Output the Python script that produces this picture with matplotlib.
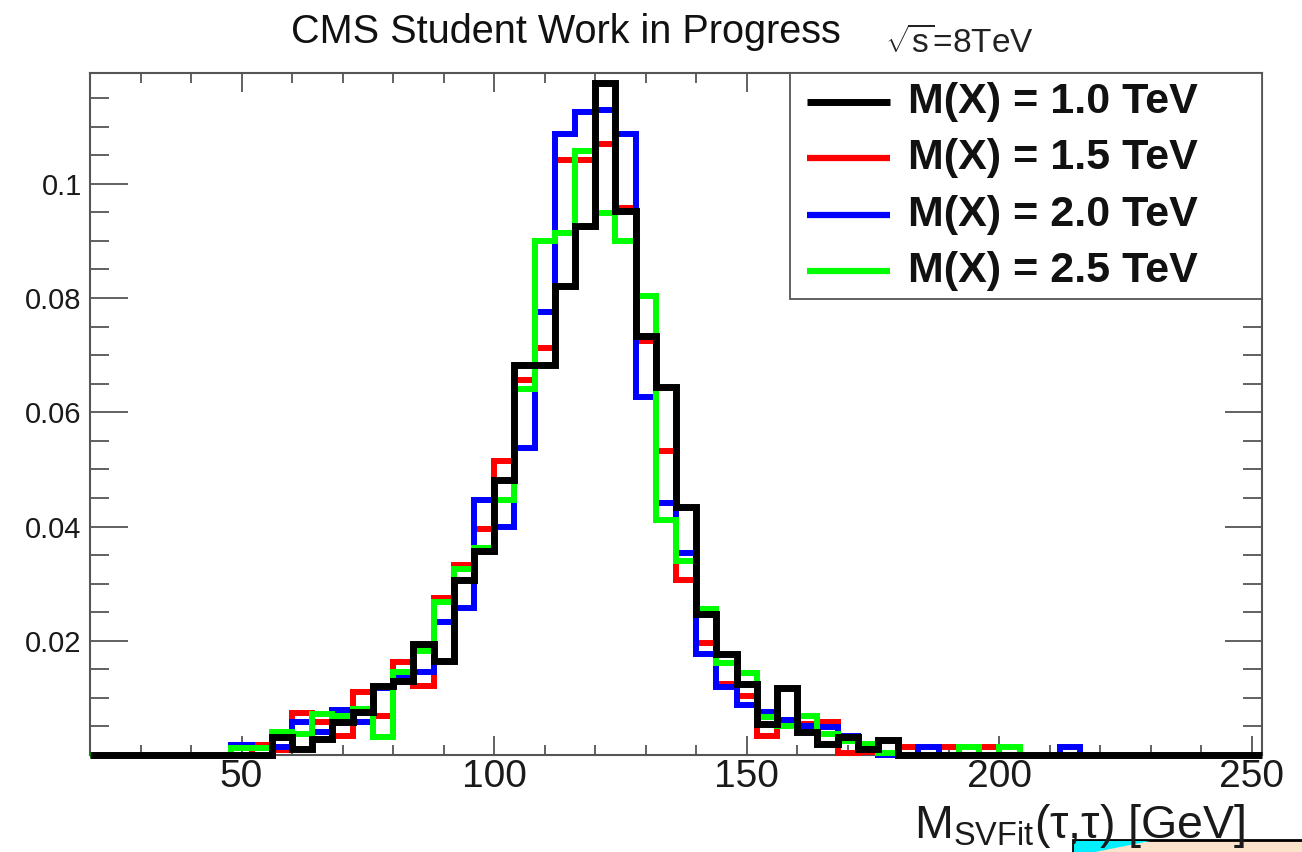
import numpy as np
import matplotlib
matplotlib.use("Agg")
import matplotlib.pyplot as plt
from matplotlib.ticker import MultipleLocator, FixedLocator, FormatStrFormatter
from matplotlib.patches import Rectangle, Polygon

plt.rcParams['font.family'] = ['Liberation Sans', 'DejaVu Sans']
plt.rcParams['mathtext.fontset'] = 'custom'
plt.rcParams['mathtext.rm'] = 'Liberation Sans'
plt.rcParams['mathtext.it'] = 'Liberation Sans:italic'

# 4 GeV bins from 20 to 252 GeV (normalised distributions)
edges = np.arange(20, 256, 4)

m_1000 = [0, 0, 0, 0, 0, 0, 0, 0, 0, 0.0031,
          0.0011, 0.0028, 0.0058, 0.0075, 0.0121, 0.0130, 0.0194, 0.0165, 0.0307, 0.0357,
          0.0482, 0.0682, 0.0682, 0.0821, 0.0926, 0.1176, 0.0952, 0.0734, 0.0644, 0.0435,
          0.0246, 0.0177, 0.0124, 0.0054, 0.0118, 0.0040, 0.0020, 0.0031, 0.0010, 0.0026,
          0, 0, 0, 0, 0, 0, 0, 0, 0, 0,
          0, 0, 0, 0, 0, 0, 0, 0]
m_1500 = [0, 0, 0, 0, 0, 0, 0, 0, 0.0017, 0.0008,
          0.0073, 0.0058, 0.0034, 0.0110, 0.0069, 0.0162, 0.0121, 0.0275, 0.0333, 0.0395,
          0.0514, 0.0656, 0.0713, 0.1042, 0.1042, 0.1070, 0.0958, 0.0724, 0.0532, 0.0307,
          0.0196, 0.0124, 0.0104, 0.0034, 0.0060, 0.0055, 0.0058, 0.0003, 0.0005, 0,
          0.0014, 0, 0.0014, 0, 0.0014, 0, 0, 0, 0, 0,
          0, 0, 0, 0, 0, 0, 0, 0]
m_2000 = [0, 0, 0, 0, 0, 0, 0, 0.0017, 0.0012, 0.0014,
          0.0058, 0.0040, 0.0078, 0.0058, 0.0118, 0.0135, 0.0145, 0.0232, 0.0258, 0.0447,
          0.0400, 0.0537, 0.0775, 0.1088, 0.1126, 0.1130, 0.1088, 0.0627, 0.0441, 0.0354,
          0.0177, 0.0119, 0.0087, 0.0076, 0.0061, 0.0050, 0.0049, 0.0034, 0.0010, 0,
          0, 0.0014, 0, 0, 0, 0, 0, 0, 0.0014, 0,
          0, 0, 0, 0, 0, 0, 0, 0]
m_2500 = [0, 0, 0, 0, 0, 0, 0, 0.0012, 0.0012, 0.0040,
          0.0037, 0.0072, 0.0069, 0.0081, 0.0031, 0.0145, 0.0182, 0.0267, 0.0325, 0.0363,
          0.0447, 0.0641, 0.0900, 0.0914, 0.1057, 0.0949, 0.0900, 0.0804, 0.0412, 0.0340,
          0.0255, 0.0161, 0.0144, 0.0066, 0.0050, 0.0069, 0.0037, 0.0025, 0.0020, 0.0003,
          0, 0, 0, 0.0014, 0, 0.0014, 0, 0, 0, 0,
          0, 0, 0, 0, 0, 0, 0, 0]

labels = ['M(X) = 1.0 TeV', 'M(X) = 1.5 TeV', 'M(X) = 2.0 TeV', 'M(X) = 2.5 TeV']
series = [m_1000, m_1500, m_2000, m_2500]
colors = ['#000000', '#ff0000', '#0000ff', '#00ff00']
widths = [5.0, 4.3, 4.3, 4.3]

fig = plt.figure(figsize=(13.02, 8.52), dpi=100)
ax = fig.add_axes([90 / 1302, 97 / 852, 1172 / 1302, 682 / 852])

# draw red, blue, green first so the black histogram sits on top
for k in [1, 2, 3, 0]:
    ax.stairs(series[k], edges, color=colors[k], lw=widths[k], clip_on=False, zorder=3 + (k == 0))

ax.set_xlim(20, 252)
ax.set_ylim(0, 0.1194)

ax.xaxis.set_major_locator(FixedLocator([50, 100, 150, 200, 250]))
ax.xaxis.set_minor_locator(MultipleLocator(10))
ax.yaxis.set_major_locator(FixedLocator([0.02, 0.04, 0.06, 0.08, 0.1]))
ax.yaxis.set_minor_locator(MultipleLocator(0.005))
ax.yaxis.set_major_formatter(FormatStrFormatter('%g'))

tick_col = '#555555'
ax.tick_params(axis='both', which='both', direction='in', top=True, right=True,
               color=tick_col, width=1.3)
ax.tick_params(axis='x', which='major', length=14, labelsize=28, pad=3, labelcolor='#1a1a1a')
ax.tick_params(axis='x', which='minor', length=7)
ax.tick_params(axis='y', which='major', length=27, labelsize=21, pad=6, labelcolor='#1a1a1a')
ax.tick_params(axis='y', which='minor', length=13.5)
for sp in ax.spines.values():
    sp.set_color(tick_col)
    sp.set_linewidth(1.5)

# legend box in the top right corner
ax.add_patch(Rectangle((0.5973, 0.6686), 1 - 0.5973, 1 - 0.6686, transform=ax.transAxes,
                       facecolor='white', edgecolor=tick_col, lw=1.3, zorder=5))
for i, (lab, col) in enumerate(zip(labels, colors)):
    yy = 0.9575 - i * 0.0826
    ax.plot([0.6118, 0.6826], [yy, yy], transform=ax.transAxes, color=col,
            lw=5.0 if i == 0 else 4.5, solid_capstyle='butt', zorder=6)
    ax.text(0.698, yy, lab, transform=ax.transAxes, fontsize=31, fontweight='bold',
            va='center', ha='left', color='#111111', zorder=6)

fig.text(566 / 1302, 1 - 32 / 852, 'CMS Student Work in Progress', fontsize=28.5,
         ha='center', va='center', color='#111111')
fig.text(885 / 1302, 1 - 43 / 852, r'$\sqrt{\rm s}$=8TeV', fontsize=24, ha='left',
         va='center', color='#222222')
fig.text(1245 / 1302, 1 - 838 / 852, r'M$_{\rm SVFit}$(τ,τ) [GeV]', fontsize=33.5,
         ha='right', va='baseline', color='#1a1a1a')

# slide box peeking in at the lower right
fig.patches.append(Rectangle((1073 / 1302, -0.01), 240 / 1302, 12 / 852 + 0.01,
                             transform=fig.transFigure, facecolor='#fbe2cb',
                             edgecolor='black', lw=2))
fig.patches.append(Polygon([(1074 / 1302, 11 / 852), (1150 / 1302, 11 / 852),
                            (1095 / 1302, 0), (1074 / 1302, 0)],
                           closed=True, transform=fig.transFigure,
                           facecolor='#00f0ff', edgecolor='none'))

fig.savefig('out.png', dpi=100)
